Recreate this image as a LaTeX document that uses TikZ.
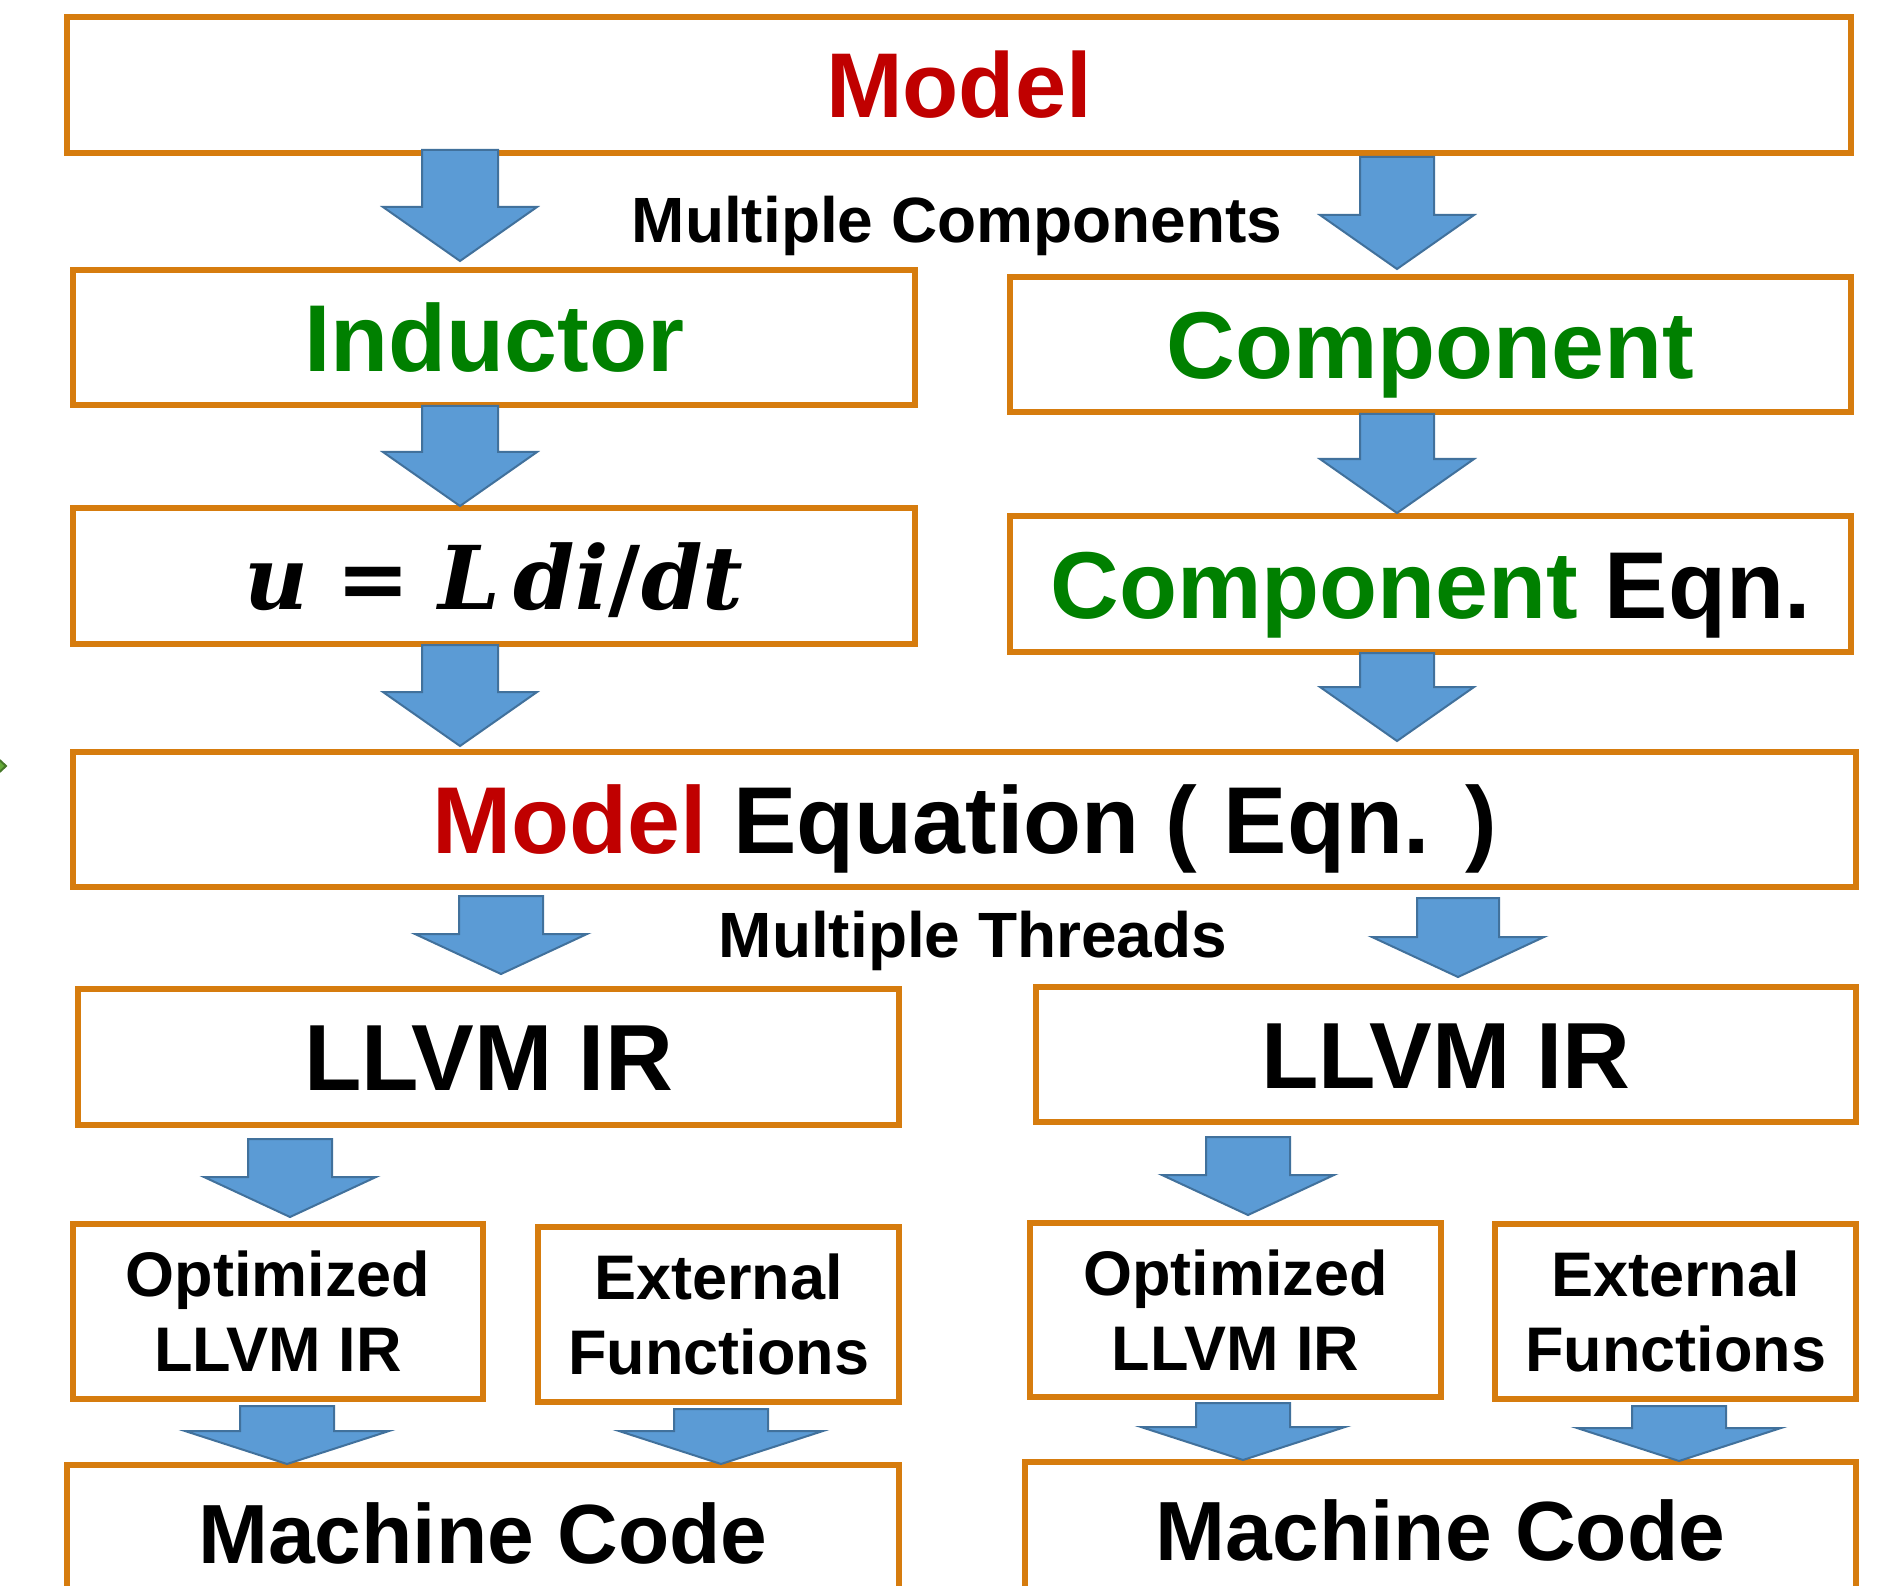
\documentclass[tikz,border=0pt]{standalone}
\usepackage{fontspec}
\setmainfont{Liberation Sans}
\newfontfamily\eqnfont{DejaVu Serif}
\usetikzlibrary{calc}
\definecolor{boxorange}{RGB}{214,124,14}
\definecolor{flowblue}{RGB}{91,155,213}
\definecolor{flowedge}{RGB}{65,113,156}
\definecolor{modelred}{RGB}{192,0,0}
\definecolor{partgreen}{RGB}{0,128,0}
\tikzset{
	stage/.style={draw=boxorange, line width=5.5pt, inner sep=0pt, outer sep=0pt},
	bigtext/.style={font=\bfseries\fontsize{#1}{#1}\selectfont, text height=0.716*#1pt, text depth=0pt},
	twoline/.style={font=\bfseries\fontsize{63}{75}\selectfont, align=center},
	note/.style={font=\bfseries\fontsize{64}{76}\selectfont, inner sep=0pt},
	flow/.style={fill=flowblue, draw=flowedge, line width=2pt, line join=miter}
}
\begin{document}
\begin{tikzpicture}[x=1pt, y=-1pt]
		\clip (0,0) rectangle (1880,1586);
		\fill [white] (0,0) rectangle (1880,1586);
		% stray mark on the left edge
		\filldraw [fill={rgb,255:red,101;green,170;blue,56}, draw={rgb,255:red,70;green,120;blue,40}, line width=2pt] (-8,753) -- (6,766) -- (-8,779) -- cycle;
		\node [stage, bigtext=92, minimum width=1784pt, minimum height=136pt] (model) at (959,85) {\color{modelred}Model};
		\node [note] (mcomp) at (957,226) {Multiple Components};
		\node [stage, bigtext=95, minimum width=842pt, minimum height=135pt] (inductor) at (494,337.5) {\color{partgreen}Inductor};
		\node [stage, bigtext=95, minimum width=841pt, minimum height=135pt] (component) at (1430.5,344.5) {\color{partgreen}Component};
		\node [stage, font=\eqnfont\bfseries\fontsize{88}{88}\selectfont, text height=0.76*88pt, text depth=0pt, minimum width=842pt, minimum height=136pt] (ueq) at (494,576) {\textit{u}\hspace{0.32em}=\hspace{0.32em}\textit{L}\hspace{0.15em}\textit{di}/\textit{dt}};
		\node [stage, bigtext=95, minimum width=841pt, minimum height=136pt] (compeqn) at (1430.5,584) {{\color{partgreen}Component} Eqn.};
		\node [stage, bigtext=95, minimum width=1783pt, minimum height=135pt] (modeleq) at (964.5,819.5) {{\color{modelred}Model} Equation ( Eqn. )};
		\node [note] (mthreads) at (973,941) {Multiple Threads};
		\node [stage, bigtext=94, minimum width=821pt, minimum height=136pt] (llvmL) at (488.5,1057) {LLVM IR};
		\node [stage, bigtext=94, minimum width=820pt, minimum height=135pt] (llvmR) at (1446,1054.5) {LLVM IR};
		\node [stage, twoline, minimum width=410pt, minimum height=175pt] (optL) at (278,1311.5) {Optimized\\LLVM IR};
		\node [stage, twoline, minimum width=361pt, minimum height=175pt] (extL) at (718.5,1314.5) {External\\Functions};
		\node [stage, twoline, minimum width=411pt, minimum height=174pt] (optR) at (1235.5,1310) {Optimized\\LLVM IR};
		\node [stage, twoline, minimum width=361pt, minimum height=175pt] (extR) at (1675.5,1311.5) {External\\Functions};
		\node [stage, bigtext=84, minimum width=832pt, minimum height=136pt] (mcL) at (483,1533) {Machine Code};
		\node [stage, bigtext=84, minimum width=831pt, minimum height=136pt] (mcR) at (1440.5,1530) {Machine Code};
		% block arrows: x / from / to / shaft half / head half / head length / top gap / tip gap
		\foreach \ax/\src/\dst/\sw/\hw/\hl/\tg/\ig in {
			460/model/inductor/38/77/54/-3/9, 1397/model/component/37/77/54/4/8,
			460/inductor/ueq/38/77/54/1/2, 1397/component/compeqn/37/77/54/2/3,
			460/ueq/modeleq/38/77/54/1/6, 1397/compeqn/modeleq/37/77/54/1/11,
			501/modeleq/llvmL/42/86/40/9/15, 1458/modeleq/llvmR/41/86/40/11/10,
			290/llvmL/optL/42/86/40/14/7, 1248/llvmR/optR/42/86/40/15/8,
			287/optL/mcL/47/102/33/7/1, 721/extL/mcL/47/102/33/7/1,
			1243/optR/mcR/47/102/33/6/2, 1679/extR/mcR/47/102/33/7/1} {
			\draw [flow] let \p1=(\src.south), \p2=(\dst.north) in
				({\ax pt-\sw pt},{\y1-(\tg)*1pt}) -- ({\ax pt+\sw pt},{\y1-(\tg)*1pt})
				-- ({\ax pt+\sw pt},{\y2+(\ig+\hl)*1pt}) -- ({\ax pt+\hw pt},{\y2+(\ig+\hl)*1pt})
				-- ({\ax pt},{\y2+(\ig)*1pt})
				-- ({\ax pt-\hw pt},{\y2+(\ig+\hl)*1pt}) -- ({\ax pt-\sw pt},{\y2+(\ig+\hl)*1pt}) -- cycle;
		}
	\end{tikzpicture}
\end{document}
